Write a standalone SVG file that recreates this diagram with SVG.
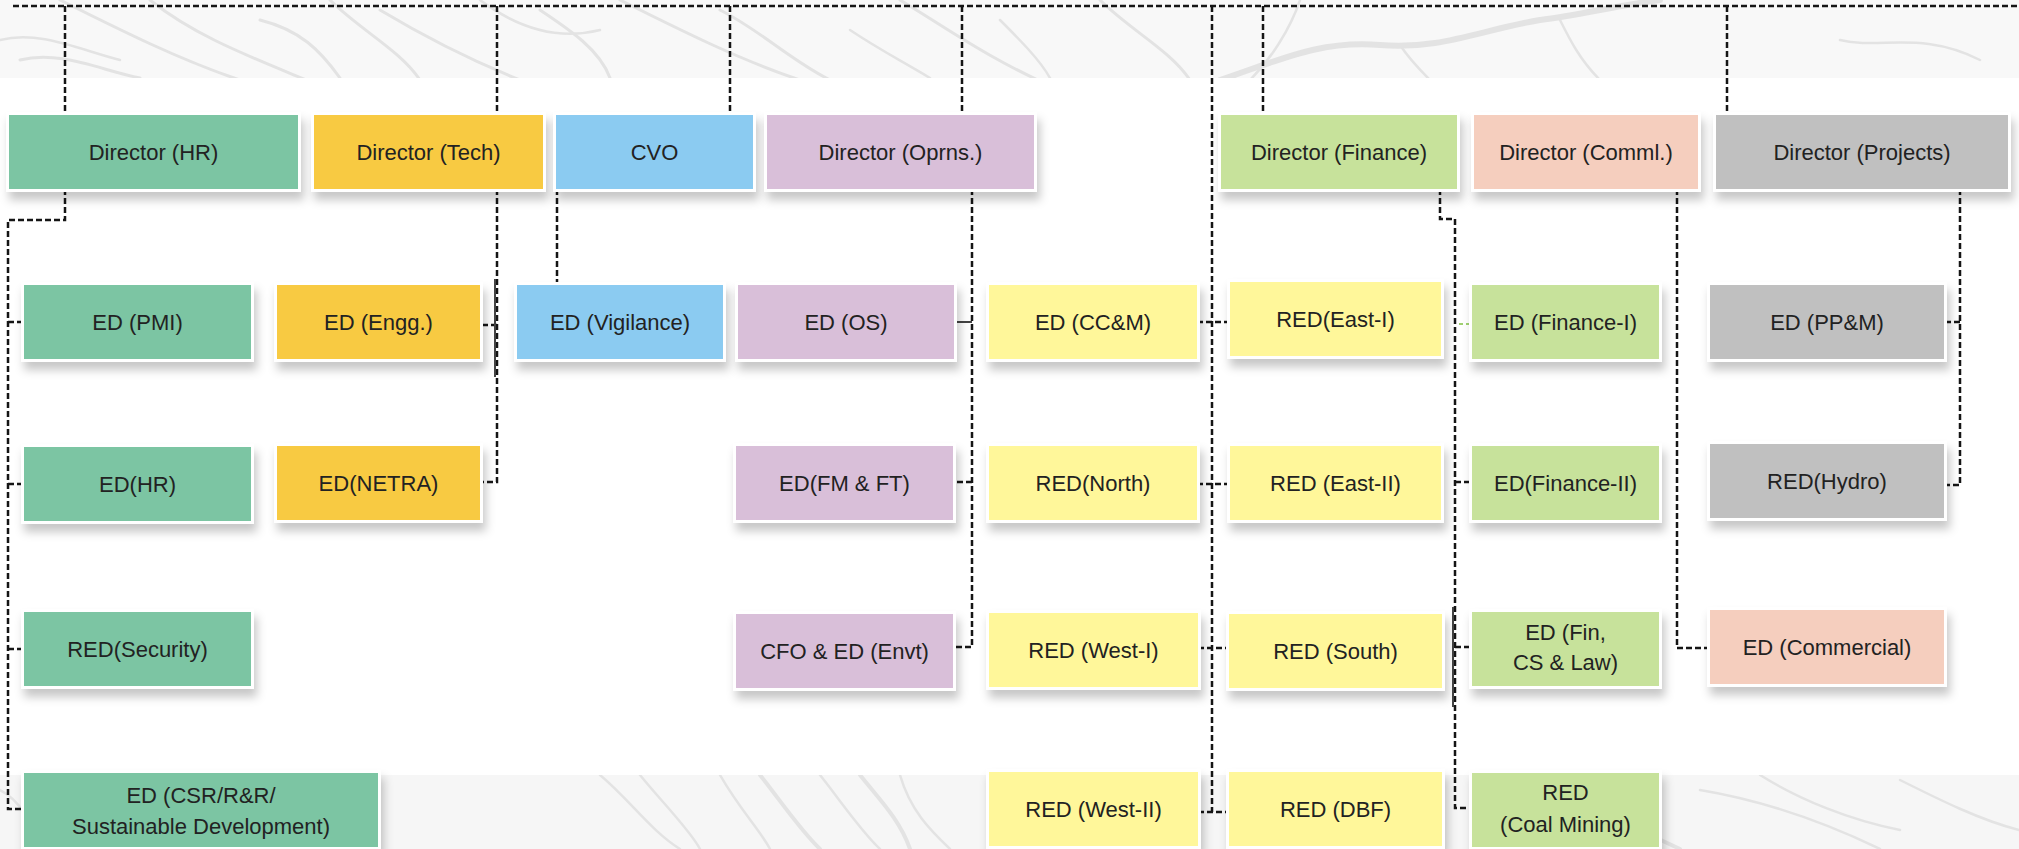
<svg xmlns="http://www.w3.org/2000/svg" width="2019" height="849" viewBox="0 0 2019 849">
<defs>
<style>
.bx{stroke:#ffffff;stroke-width:6;paint-order:stroke;filter:url(#sh)}
.t{font-family:"Liberation Sans",Arial,sans-serif;font-size:22px;fill:#222;text-anchor:middle}
.c{fill:none;stroke:#151515;stroke-width:2.5;stroke-dasharray:6 3}
.s{fill:none;stroke:#444;stroke-width:2}
.br{fill:none;stroke:#e3e3e3;stroke-linecap:round}
.g1{fill:#7bc5a3}.y1{fill:#f8ca42}.b1{fill:#8bcbf1}.p1{fill:#d9bfd9}.g2{fill:#c7e29b}.o1{fill:#f5cebe}.k1{fill:#c0c0c0}.y2{fill:#fff79a}
</style>
<filter id="sh" x="-10%" y="-20%" width="125%" height="160%">
<feDropShadow dx="3" dy="8" stdDeviation="5" flood-color="#000" flood-opacity="0.22"/>
</filter>
<clipPath id="topc"><rect x="0" y="0" width="2019" height="78"/></clipPath>
<clipPath id="botc"><rect x="0" y="775" width="2019" height="74"/></clipPath>
</defs>
<rect width="2019" height="849" fill="#ffffff"/>
<g id="background">
<rect x="0" y="0" width="2019" height="78" fill="#f8f8f8"/>
<g clip-path="url(#topc)">
<path class="br" stroke-width="3" d="M60,0 C120,30 180,60 240,80 M150,0 C200,40 260,60 330,90 M380,10 C430,40 470,60 520,80 M330,0 C360,30 400,50 420,80 M620,0 C680,30 740,60 800,80 M720,10 C760,30 790,60 830,80 M900,0 C950,30 990,60 1060,90 M1100,0 C1130,30 1170,50 1190,80 M20,60 C60,50 100,70 140,78 M260,20 C300,30 320,50 340,78 M540,10 C570,30 600,50 610,78"/>
<path class="br" stroke-width="6" d="M1220,80 C1280,60 1320,40 1380,45 C1440,50 1480,30 1540,20 C1580,15 1620,5 1660,0"/>
<path class="br" stroke-width="2.5" d="M1400,45 C1410,60 1420,70 1430,80 M1560,20 C1570,40 1580,60 1600,80 M1300,0 C1290,30 1270,60 1250,80 M0,40 C40,30 80,50 120,60 M480,0 C520,30 560,40 600,30 M1840,40 C1880,50 1920,30 1980,60 M850,30 C880,50 900,60 930,78 M1000,20 C1020,40 1040,60 1050,78"/>
</g>
<rect x="0" y="775" width="2019" height="74" fill="#f6f6f6"/>
<g clip-path="url(#botc)">
<path class="br" stroke-width="2.5" d="M600,775 C630,800 650,830 680,849 M640,775 C660,800 690,830 700,849 M720,775 C740,810 760,830 770,849 M820,775 C840,800 860,830 880,849 M900,775 C910,810 930,830 950,849 M1000,780 C1040,800 1080,820 1120,849 M1700,790 C1760,800 1820,820 1880,849 M1760,775 C1800,800 1850,820 1900,830 M1900,780 C1940,800 1980,820 2019,830 M0,790 C20,800 30,820 40,849"/>
<path class="br" stroke-width="4" d="M760,775 C780,800 800,830 820,849 M860,775 C880,800 900,820 910,849 M1500,790 C1560,800 1620,820 1680,849"/>
</g>
</g>
<g id="connectors">
<path class="c" d="M13,6 H2019"/>
<path class="c" d="M65,6 V113 M497,6 V113 M730,6 V113 M962,6 V113 M1263,6 V113 M1727,6 V113"/>
<path class="c" d="M1212,6 V812"/>
<path class="c" d="M65,189 V220 H8 V809 H24 M8,322 H24 M8,484 H24 M8,649 H24"/>
<path class="c" d="M497,189 V482 H480 M497,325 H480"/>
<path class="s" d="M495,279 V377"/>
<path class="c" d="M557,189 V285"/>
<path class="c" d="M972,189 V647 H953 M972,482 H953"/>
<path class="s" d="M954,322 H972"/>
<path class="c" d="M1197,322 H1230 M1197,484 H1230 M1198,648 H1229 M1198,812 H1229"/>
<path class="c" d="M1440,189 V219 H1455 V808 H1472 M1455,482 H1472 M1455,647 H1472"/>
<path class="s" d="M1453,607 V707"/>
<path fill="none" stroke="#9fd070" stroke-width="2" stroke-dasharray="4 3" d="M1459,324 H1472"/>
<path class="c" d="M1677,189 V648 H1710"/>
<path class="c" d="M1960,189 V485 H1944 M1960,322 H1944"/>
</g>
<g id="dHR"><rect class="bx g1" x="9" y="115" width="289" height="74"/><text class="t" x="153.5" y="160">Director (HR)</text></g>
<g id="dTech"><rect class="bx y1" x="314" y="115" width="229" height="74"/><text class="t" x="428.5" y="160">Director (Tech)</text></g>
<g id="dCVO"><rect class="bx b1" x="556" y="115" width="197" height="74"/><text class="t" x="654.5" y="160">CVO</text></g>
<g id="dOps"><rect class="bx p1" x="767" y="115" width="267" height="74"/><text class="t" x="900.5" y="160">Director (Oprns.)</text></g>
<g id="dFin"><rect class="bx g2" x="1221" y="115" width="236" height="74"/><text class="t" x="1339" y="160">Director (Finance)</text></g>
<g id="dComml"><rect class="bx o1" x="1474" y="115" width="224" height="74"/><text class="t" x="1586" y="160">Director (Comml.)</text></g>
<g id="dProj"><rect class="bx k1" x="1716" y="115" width="292" height="74"/><text class="t" x="1862" y="160">Director (Projects)</text></g>

<g id="edPMI"><rect class="bx g1" x="24" y="285" width="227" height="74"/><text class="t" x="137.5" y="330">ED (PMI)</text></g>
<g id="edHR"><rect class="bx g1" x="24" y="447" width="227" height="74"/><text class="t" x="137.5" y="492">ED(HR)</text></g>
<g id="redSecurity"><rect class="bx g1" x="24" y="612" width="227" height="74"/><text class="t" x="137.5" y="657">RED(Security)</text></g>
<g id="edCSR"><rect class="bx g1" x="24" y="773" width="354" height="74"/><text class="t" x="201" y="803">ED (CSR/R&amp;R/</text><text class="t" x="201" y="834">Sustainable Development)</text></g>

<g id="edEngg"><rect class="bx y1" x="277" y="285" width="203" height="74"/><text class="t" x="378.5" y="330">ED (Engg.)</text></g>
<g id="edNETRA"><rect class="bx y1" x="277" y="446" width="203" height="74"/><text class="t" x="378.5" y="491">ED(NETRA)</text></g>

<g id="edVigilance"><rect class="bx b1" x="517" y="285" width="206" height="74"/><text class="t" x="620" y="330">ED (Vigilance)</text></g>

<g id="edOS"><rect class="bx p1" x="738" y="285" width="216" height="74"/><text class="t" x="846" y="330">ED (OS)</text></g>
<g id="edFMFT"><rect class="bx p1" x="736" y="446" width="217" height="74"/><text class="t" x="844.5" y="491">ED(FM &amp; FT)</text></g>
<g id="cfoEnvt"><rect class="bx p1" x="736" y="614" width="217" height="74"/><text class="t" x="844.5" y="659">CFO &amp; ED (Envt)</text></g>

<g id="edCCM"><rect class="bx y2" x="989" y="285" width="208" height="74"/><text class="t" x="1093" y="330">ED (CC&amp;M)</text></g>
<g id="redNorth"><rect class="bx y2" x="989" y="446" width="208" height="74"/><text class="t" x="1093" y="491">RED(North)</text></g>
<g id="redWest1"><rect class="bx y2" x="989" y="613" width="209" height="74"/><text class="t" x="1093.5" y="658">RED (West-I)</text></g>
<g id="redWest2"><rect class="bx y2" x="989" y="772" width="209" height="74"/><text class="t" x="1093.5" y="817">RED (West-II)</text></g>

<g id="redEast1"><rect class="bx y2" x="1230" y="282" width="211" height="74"/><text class="t" x="1335.5" y="327">RED(East-I)</text></g>
<g id="redEast2"><rect class="bx y2" x="1230" y="446" width="211" height="74"/><text class="t" x="1335.5" y="491">RED (East-II)</text></g>
<g id="redSouth"><rect class="bx y2" x="1229" y="614" width="213" height="74"/><text class="t" x="1335.5" y="659">RED (South)</text></g>
<g id="redDBF"><rect class="bx y2" x="1229" y="772" width="213" height="74"/><text class="t" x="1335.5" y="817">RED (DBF)</text></g>

<g id="edFin1"><rect class="bx g2" x="1472" y="285" width="187" height="74"/><text class="t" x="1565.5" y="330">ED (Finance-I)</text></g>
<g id="edFin2"><rect class="bx g2" x="1472" y="446" width="187" height="74"/><text class="t" x="1565.5" y="491">ED(Finance-II)</text></g>
<g id="edFinCSLaw"><rect class="bx g2" x="1472" y="612" width="187" height="74"/><text class="t" x="1565.5" y="640">ED (Fin,</text><text class="t" x="1565.5" y="670">CS &amp; Law)</text></g>
<g id="redCoal"><rect class="bx g2" x="1472" y="773" width="187" height="74"/><text class="t" x="1565.5" y="800">RED</text><text class="t" x="1565.5" y="832">(Coal Mining)</text></g>

<g id="edPPM"><rect class="bx k1" x="1710" y="285" width="234" height="74"/><text class="t" x="1827" y="330">ED (PP&amp;M)</text></g>
<g id="redHydro"><rect class="bx k1" x="1710" y="444" width="234" height="74"/><text class="t" x="1827" y="489">RED(Hydro)</text></g>
<g id="edCommercial"><rect class="bx o1" x="1710" y="610" width="234" height="74"/><text class="t" x="1827" y="655">ED (Commercial)</text></g>
</svg>
